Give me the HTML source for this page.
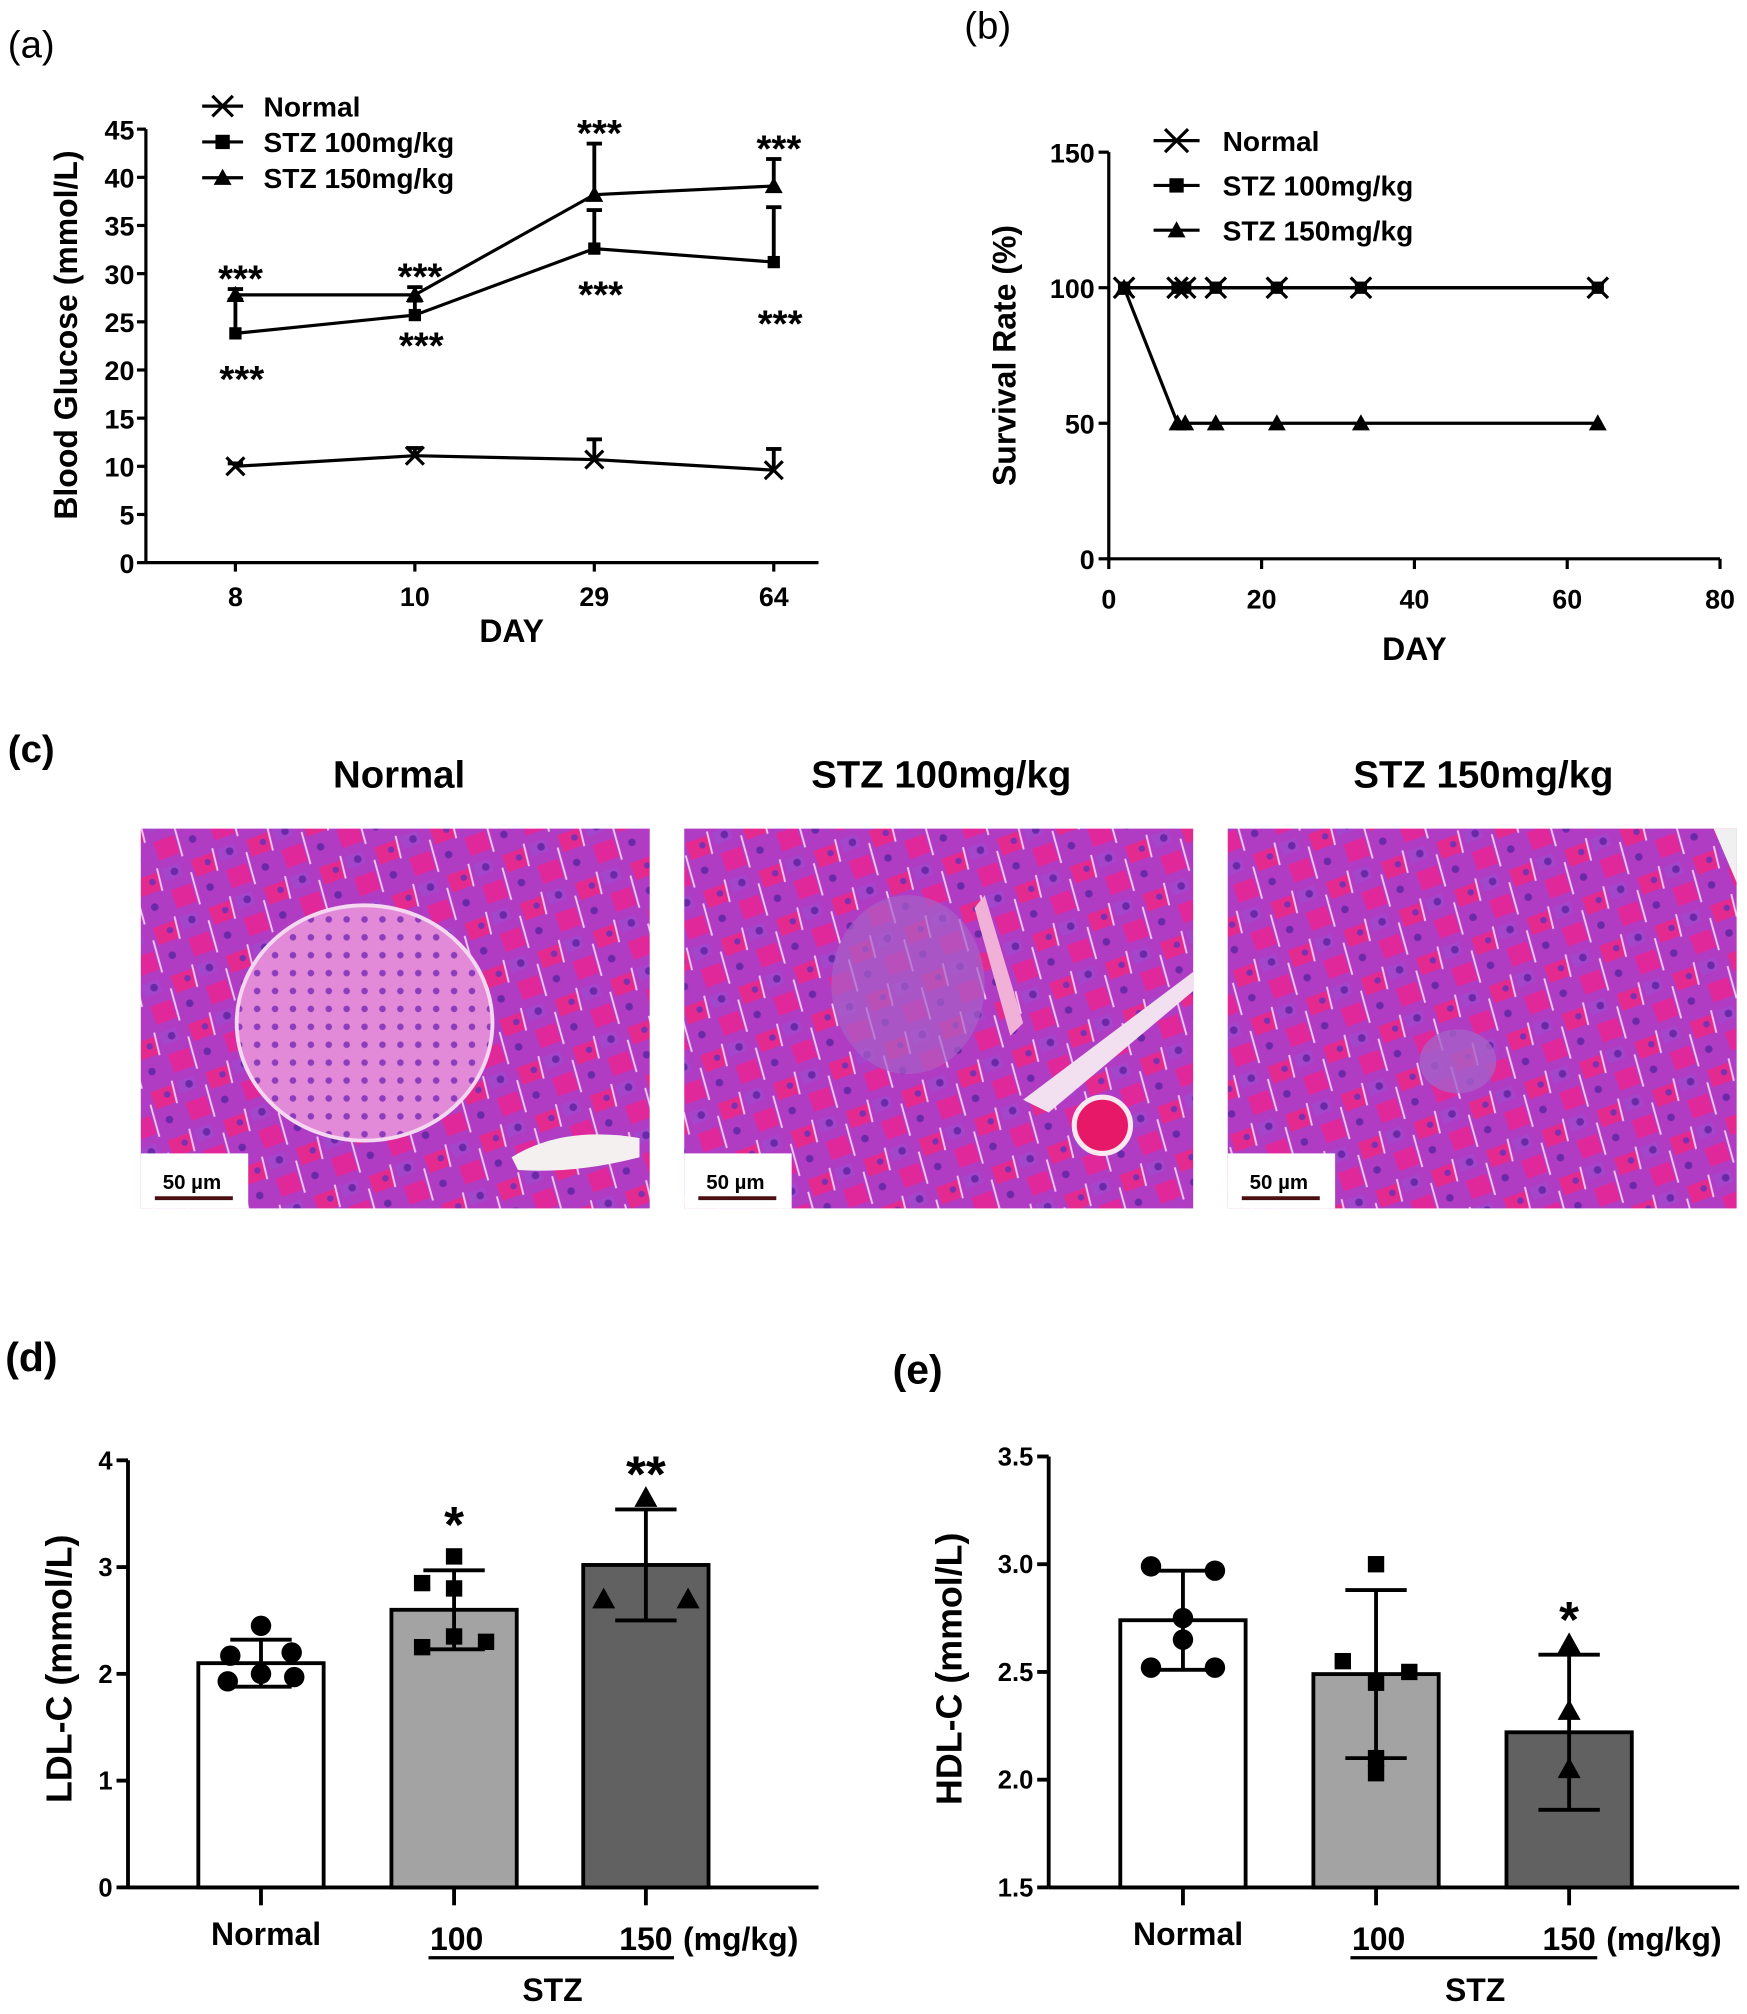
<!DOCTYPE html>
<html><head><meta charset="utf-8"><style>
html,body{margin:0;padding:0;background:#fff;}
svg{display:block;}
text{font-family:"Liberation Sans",sans-serif;fill:#000;}
.b{font-weight:bold;}
</style></head><body>
<svg id="fig" width="1747" height="2014" viewBox="0 0 1366 1575" xmlns="http://www.w3.org/2000/svg">
<defs>
<pattern id="tissue" width="46" height="40" patternUnits="userSpaceOnUse" patternTransform="rotate(-20)">
<rect width="46" height="40" fill="#b03cc4"/>
<rect x="2" y="3" width="18" height="14" fill="#e42a8e"/>
<rect x="25" y="20" width="17" height="15" fill="#e0289a"/>
<rect x="24" y="2" width="14" height="10" fill="#a446cc"/>
<path d="M21 0 L19 18 M43 38 L45 12" stroke="#f0c8f0" stroke-width="1.5"/>
<circle cx="9" cy="28" r="3" fill="#6a2aa8"/>
<circle cx="33" cy="7" r="3" fill="#6a2aa8"/>
<circle cx="14" cy="9" r="2.5" fill="#7a30b0"/>
</pattern>
<pattern id="islet" width="14" height="14" patternUnits="userSpaceOnUse">
<rect width="14" height="14" fill="#e28ad8"/>
<circle cx="5" cy="5" r="2.6" fill="#8c3cbc"/>
</pattern>
</defs>

<g>
<text x="6" y="45" font-size="30">(a)</text>
<g id="gA"></g>
</g>
<g>
<text x="754" y="30" font-size="30">(b)</text>
<g id="gB"></g>
</g>
<g>
<text x="6" y="596" font-size="30" class="b">(c)</text>
<text x="312" y="616" font-size="30" class="b" text-anchor="middle">Normal</text>
<text x="736" y="616" font-size="30" class="b" text-anchor="middle">STZ 100mg/kg</text>
<text x="1160" y="616" font-size="30" class="b" text-anchor="middle">STZ 150mg/kg</text>
<g>
<rect x="110" y="648" width="398" height="297" fill="url(#tissue)"/>
<ellipse cx="285" cy="800" rx="100" ry="92" fill="url(#islet)" stroke="#f4d8f0" stroke-width="3"/>
<path d="M400 905 Q440 880 500 890 L500 905 Q450 918 405 915Z" fill="#f4f0f0"/>
</g>
<g>
<rect x="535" y="648" width="398" height="297" fill="url(#tissue)"/>
<ellipse cx="710" cy="770" rx="60" ry="70" fill="#a860c8" opacity="0.7"/>
<path d="M770 700 L800 800 L790 810 L762 710Z" fill="#f0b0d8"/>
<circle cx="862" cy="880" r="22" fill="#e81868" stroke="#f8e8f0" stroke-width="4"/>
<path d="M800 860 L933 760 L933 775 L820 870Z" fill="#f2e0f0"/>
</g>
<g>
<rect x="960" y="648" width="398" height="297" fill="url(#tissue)"/>
<ellipse cx="1140" cy="830" rx="30" ry="25" fill="#a860c8" opacity="0.8"/>
<path d="M1340 648 L1358 648 L1358 690Z" fill="#f0f0f0"/>
</g>
<g><rect x="110" y="902" width="84" height="43" fill="#fff"/><text x="150" y="930" font-size="16" class="b" text-anchor="middle">50 µm</text><line x1="121" y1="937" x2="182" y2="937" stroke="#4a1010" stroke-width="3"/></g>
<g><rect x="535" y="902" width="84" height="43" fill="#fff"/><text x="575" y="930" font-size="16" class="b" text-anchor="middle">50 µm</text><line x1="546" y1="937" x2="607" y2="937" stroke="#4a1010" stroke-width="3"/></g>
<g><rect x="960" y="902" width="84" height="43" fill="#fff"/><text x="1000" y="930" font-size="16" class="b" text-anchor="middle">50 µm</text><line x1="971" y1="937" x2="1032" y2="937" stroke="#4a1010" stroke-width="3"/></g>
</g>
<text x="4" y="1072" font-size="32" class="b">(d)</text>
<text x="698" y="1082" font-size="32" class="b">(e)</text>
<g id="gD"></g>
<g id="gE"></g>
</svg>
<script>
const NS="http://www.w3.org/2000/svg";
function mk(p,tag,at,txt){const e=document.createElementNS(NS,tag);for(const k in at)e.setAttribute(k,at[k]);if(txt!==undefined)e.textContent=txt;p.appendChild(e);return e;}

const aDays=["8","10","29","64"];
const aNormal=[10,11.1,10.7,9.6];
const aNormalErr=[0.3,0.8,2.1,2.2];
const aStz100=[23.8,25.7,32.6,31.2];
const aStz100Err=[3.5,1.5,4.0,5.7];
const aStz150=[27.8,27.8,38.2,39.1];
const aStz150Err=[0.6,0.8,5.3,2.8];
const aTicks=[0,5,10,15,20,25,30,35,40,45];

const bDays=[2,9,10,14,22,33,64];
const bNormal=[100,100,100,100,100,100,100];
const bStz100=[100,100,100,100,100,100,100];
const bStz150=[100,50,50,50,50,50,50];
const bYTicks=[0,50,100,150];
const bXTicks=[0,20,40,60,80];

const dGroups=["Normal","100","150"];
const dMeans=[2.1,2.6,3.02];
const dErr=[0.22,0.37,0.52];
const dPtsNormal=[2.45,2.17,2.2,2.0,1.93,1.97];
const dPts100=[3.1,2.85,2.8,2.35,2.25,2.3];
const dPts150=[3.65,2.7,2.7];
const dTicks=[0,1,2,3,4];
const dStars=["","*","**"];

const eMeans=[2.74,2.49,2.22];
const eErr=[0.23,0.39,0.36];
const ePtsNormal=[2.99,2.97,2.75,2.65,2.52,2.52];
const ePts100=[3.0,2.55,2.5,2.45,2.1,2.03];
const ePts150=[2.63,2.32,2.05];
const eTicks=[1.5,2.0,2.5,3.0,3.5];
const eStars=["","","*"];

function marker(g,type,x,y,s){
  if(type==="x"){mk(g,"path",{d:`M${x-s} ${y-s}L${x+s} ${y+s}M${x-s} ${y+s}L${x+s} ${y-s}`,stroke:"#000","stroke-width":2.5,fill:"none"});}
  else if(type==="sq"){mk(g,"rect",{x:x-s*0.8,y:y-s*0.8,width:s*1.6,height:s*1.6,fill:"#000"});}
  else if(type==="tri"){mk(g,"path",{d:`M${x} ${y-s} L${x+s} ${y+s*0.8} L${x-s} ${y+s*0.8}Z`,fill:"#000"});}
  else if(type==="dot"){mk(g,"circle",{cx:x,cy:y,r:s,fill:"#000"});}
}

(function(){
  const g=document.getElementById("gA");
  const X0=114,Y0=440,Ytop=101,ymax=45;
  const y=v=>Y0-(v/ymax)*(Y0-Ytop);
  const xs=[184,325,465,605];
  const x=i=>xs[0]+i*(xs[3]-xs[0])/(aDays.length-1);
  mk(g,"line",{x1:X0,y1:Ytop,x2:X0,y2:Y0,stroke:"#000","stroke-width":2.5});
  mk(g,"line",{x1:X0,y1:Y0,x2:640,y2:Y0,stroke:"#000","stroke-width":2.5});
  aTicks.forEach(t=>{mk(g,"line",{x1:X0-7,y1:y(t),x2:X0,y2:y(t),stroke:"#000","stroke-width":2.5});
    mk(g,"text",{x:X0-9,y:y(t)+8,"font-size":21,"text-anchor":"end",class:"b"},t);});
  aDays.forEach((d,i)=>{mk(g,"line",{x1:x(i),y1:Y0,x2:x(i),y2:Y0+7,stroke:"#000","stroke-width":2.5});
    mk(g,"text",{x:x(i),y:Y0+34,"font-size":21,"text-anchor":"middle",class:"b"},d);});
  mk(g,"text",{x:400,y:502,"font-size":25,"text-anchor":"middle",class:"b"},"DAY");
  mk(g,"text",{x:0,y:0,"font-size":25,"text-anchor":"middle",class:"b",transform:"translate(60,262) rotate(-90)"},"Blood Glucose (mmol/L)");
  const series=[[aNormal,aNormalErr,"x",7],[aStz100,aStz100Err,"sq",6],[aStz150,aStz150Err,"tri",7]];
  series.forEach(([vals,err,m,s])=>{
    let d="";vals.forEach((v,i)=>d+=(i?"L":"M")+x(i)+" "+y(v));
    mk(g,"path",{d:d,stroke:"#000","stroke-width":2.5,fill:"none"});
    vals.forEach((v,i)=>{mk(g,"line",{x1:x(i),y1:y(v),x2:x(i),y2:y(v+err[i]),stroke:"#000","stroke-width":3});
      mk(g,"line",{x1:x(i)-6,y1:y(v+err[i]),x2:x(i)+6,y2:y(v+err[i]),stroke:"#000","stroke-width":3});
      marker(g,m,x(i),y(v),s);});
  });
  aStz150.forEach((v,i)=>mk(g,"text",{x:x(i)+4,y:y(v+aStz150Err[i])+2,"font-size":30,"text-anchor":"middle",class:"b"},"***"));
  aStz100.forEach((v,i)=>mk(g,"text",{x:x(i)+5,y:y(v)+(i===0?46:(i===1?34:46))+(i===3?12:0),"font-size":30,"text-anchor":"middle",class:"b"},"***"));
  const leg=[["x","Normal",83],["sq","STZ 100mg/kg",111],["tri","STZ 150mg/kg",139]];
  leg.forEach(([m,t,ly])=>{mk(g,"line",{x1:158,y1:ly,x2:190,y2:ly,stroke:"#000","stroke-width":2.5});marker(g,m,174,ly,m==="x"?8:7);
    mk(g,"text",{x:206,y:ly+8,"font-size":22,class:"b"},t);});
})();

(function(){
  const g=document.getElementById("gB");
  const X0=867,X1=1345,Y0=437,Ytop=119;
  const x=v=>X0+v/80*(X1-X0), y=v=>Y0-v/150*(Y0-Ytop);
  mk(g,"line",{x1:X0,y1:Ytop,x2:X0,y2:Y0,stroke:"#000","stroke-width":2.5});
  mk(g,"line",{x1:X0,y1:Y0,x2:X1,y2:Y0,stroke:"#000","stroke-width":2.5});
  bYTicks.forEach(t=>{mk(g,"line",{x1:X0-8,y1:y(t),x2:X0,y2:y(t),stroke:"#000","stroke-width":2.5});
    mk(g,"text",{x:X0-11,y:y(t)+8,"font-size":21,"text-anchor":"end",class:"b"},t);});
  bXTicks.forEach(t=>{mk(g,"line",{x1:x(t),y1:Y0,x2:x(t),y2:Y0+8,stroke:"#000","stroke-width":2.5});
    mk(g,"text",{x:x(t),y:Y0+39,"font-size":21,"text-anchor":"middle",class:"b"},t);});
  mk(g,"text",{x:1106,y:516,"font-size":25,"text-anchor":"middle",class:"b"},"DAY");
  mk(g,"text",{x:0,y:0,"font-size":25,"text-anchor":"middle",class:"b",transform:"translate(794,278) rotate(-90)"},"Survival Rate (%)");
  [[bStz150,"tri",7],[bStz100,"sq",6],[bNormal,"x",8]].forEach(([vals,m,s])=>{
    let d="";vals.forEach((v,i)=>d+=(i?"L":"M")+x(bDays[i])+" "+y(v));
    mk(g,"path",{d:d,stroke:"#000","stroke-width":2.5,fill:"none"});
    vals.forEach((v,i)=>marker(g,m,x(bDays[i]),y(v),s));
  });
  const leg=[["x","Normal",110],["sq","STZ 100mg/kg",145],["tri","STZ 150mg/kg",180]];
  leg.forEach(([m,t,ly])=>{mk(g,"line",{x1:902,y1:ly,x2:938,y2:ly,stroke:"#000","stroke-width":2.5});marker(g,m,920,ly,m==="x"?9:7);
    mk(g,"text",{x:956,y:ly+8,"font-size":22,class:"b"},t);});
})();

function bars(id,X0,Y0,Ytop,ymin,ymax,ticks,fmt,means,err,pts,offs,stars,centers,ylabel,labX){
  const g=document.getElementById(id);
  const y=v=>Y0-(v-ymin)/(ymax-ymin)*(Y0-Ytop);
  const fills=["#ffffff","#a3a3a3","#616161"];
  const marks=["dot","sq","tri"];
  mk(g,"line",{x1:X0,y1:Ytop,x2:X0,y2:Y0,stroke:"#000","stroke-width":3});
  mk(g,"line",{x1:X0,y1:Y0,x2:X0+540,y2:Y0,stroke:"#000","stroke-width":3});
  ticks.forEach(t=>{mk(g,"line",{x1:X0-9,y1:y(t),x2:X0,y2:y(t),stroke:"#000","stroke-width":3});
    mk(g,"text",{x:X0-12,y:y(t)+7,"font-size":20,"text-anchor":"end",class:"b"},fmt(t));});
  mk(g,"text",{x:0,y:0,"font-size":28,"text-anchor":"middle",class:"b",transform:`translate(${labX},1305) rotate(-90)`},ylabel);
  means.forEach((m,i)=>{
    const cx=centers[i];
    const bar=mk(g,"rect",{x:cx-49,y:y(m),width:98,height:Y0-y(m),fill:fills[i],stroke:"#000","stroke-width":3});
    
    
    mk(g,"line",{x1:cx,y1:Y0,x2:cx,y2:Y0+14,stroke:"#000","stroke-width":3});
    mk(g,"line",{x1:cx,y1:y(m-err[i]),x2:cx,y2:y(m+err[i]),stroke:"#000","stroke-width":3});
    [m-err[i],m+err[i]].forEach(v=>mk(g,"line",{x1:cx-24,y1:y(v),x2:cx+24,y2:y(v),stroke:"#000","stroke-width":3}));
    pts[i].forEach((v,j)=>marker(g,marks[i],cx+offs[i][j],y(v),i===0?8:(i===1?8:9)));
    if(stars[i])mk(g,"text",{x:cx,y:y(m+err[i])-(i===1?22:14),"font-size":40,"text-anchor":"middle",class:"b"},stars[i]);
  });
  mk(g,"text",{x:centers[0]+4,y:1521,"font-size":25,"text-anchor":"middle",class:"b"},"Normal");
  mk(g,"text",{x:centers[1]+2,y:1525,"font-size":25,"text-anchor":"middle",class:"b"},"100");
  mk(g,"text",{x:centers[2],y:1525,"font-size":25,"text-anchor":"middle",class:"b"},"150");
  mk(g,"text",{x:centers[2]+29,y:1525,"font-size":25,class:"b"},"(mg/kg)");
  mk(g,"line",{x1:centers[1]-20,y1:1531,x2:centers[2]+22,y2:1531,stroke:"#000","stroke-width":2.5});
  mk(g,"text",{x:(centers[1]+centers[2])/2+2,y:1565,"font-size":25,"text-anchor":"middle",class:"b"},"STZ");
}
bars("gD",100,1476,1142,0,4,dTicks,t=>String(t),dMeans,dErr,[dPtsNormal,dPts100,dPts150],
  [[0,-24,24,0,-26,26],[0,-25,0,0,-25,25],[0,-33,33]],dStars,[204,355,505],"LDL-C (mmol/L)",56);
bars("gE",820,1476,1139,1.5,3.5,eTicks,t=>t.toFixed(1),eMeans,eErr,[ePtsNormal,ePts100,ePts150],
  [[-25,25,0,0,-25,25],[0,-26,26,0,0,0],[0,0,0]],eStars,[925,1076,1227],"HDL-C (mmol/L)",752);
</script>
</body></html>
